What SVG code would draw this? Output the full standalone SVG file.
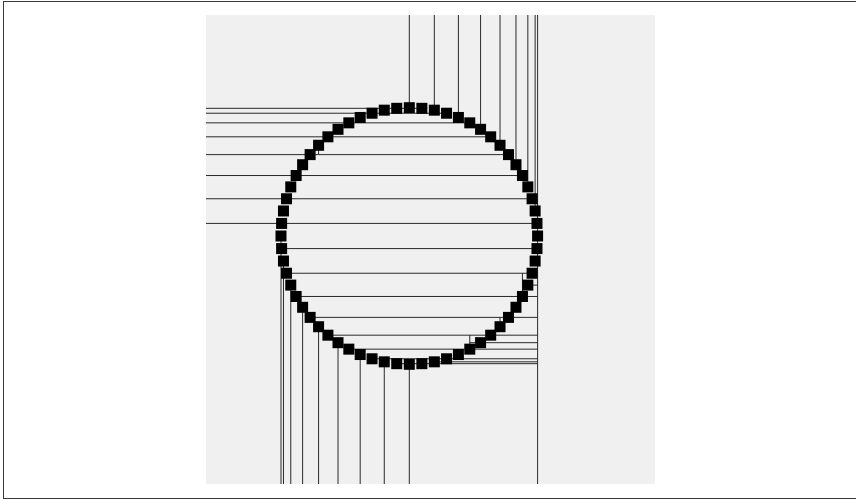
<svg xmlns="http://www.w3.org/2000/svg" width="856" height="500" viewBox="0 0 856 500">
<style>
.frame{fill:none;stroke:#3a3a3a;stroke-width:1}
.panel{fill:#f0f0f0;stroke:none}
.ln{stroke:#2a2a2a;stroke-width:1;fill:none}
.sq{fill:#000}
</style>
<defs><rect id="s" x="-5.5" y="-5.5" width="11" height="11" class="sq"/></defs>
<rect class="frame" x="3.5" y="1.5" width="900" height="497"/>
<rect class="panel" x="206" y="15" width="449" height="469"/>
<g id="connectors">
<path class="ln" d="M537.6,15V484 M535.13,15V210.97 M527.83,15V186.9 M515.98,15V164.72 M500.02,15V145.28 M480.58,15V129.32 M458.4,15V117.47 M434.33,15V110.17 M409.3,15V107.7"/>
<path class="ln" d="M206,223.42H536.98 M206,198.76H532.08 M206,175.52H522.45 M206,154.61H508.48 M206,136.82H490.69 M206,122.85H469.78 M206,113.22H446.54 M206,108.32H421.88"/>
<path class="ln" d="M281,484V236 M283.47,484V261.03 M290.77,484V285.1 M302.62,484V307.28 M318.58,484V326.72 M338.02,484V342.68 M360.2,484V354.53 M384.27,484V361.83 M409.3,484V364.3"/>
<path class="ln" d="M281.62,248.58H537.6 M286.52,273.24H537.6 M296.15,296.48H537.6 M310.12,317.39H537.6 M327.91,335.18H537.6 M348.82,349.15H537.6 M372.06,358.78H537.6 M396.72,363.68H537.6"/>
<path class="ln" d="M527.83,285.1H537.6 M522.45,296.48V273.24 M500.02,326.72V317.39 M469.78,349.15V335.18 M469.78,342.68H537.6 M434.33,361.83H537.6"/>
<path class="ln" d="M318.58,145.28V154.61"/>
</g>
<g id="squares">
<use href="#s" x="537.6" y="236"/><use href="#s" x="536.98" y="223.42"/><use href="#s" x="535.13" y="210.97"/><use href="#s" x="532.08" y="198.76"/><use href="#s" x="527.83" y="186.9"/><use href="#s" x="522.45" y="175.52"/><use href="#s" x="515.98" y="164.72"/><use href="#s" x="508.48" y="154.61"/><use href="#s" x="500.02" y="145.28"/><use href="#s" x="490.69" y="136.82"/><use href="#s" x="480.58" y="129.32"/><use href="#s" x="469.78" y="122.85"/><use href="#s" x="458.4" y="117.47"/><use href="#s" x="446.54" y="113.22"/><use href="#s" x="434.33" y="110.17"/><use href="#s" x="421.88" y="108.32"/>
<use href="#s" x="409.3" y="107.7"/><use href="#s" x="396.72" y="108.32"/><use href="#s" x="384.27" y="110.17"/><use href="#s" x="372.06" y="113.22"/><use href="#s" x="360.2" y="117.47"/><use href="#s" x="348.82" y="122.85"/><use href="#s" x="338.02" y="129.32"/><use href="#s" x="327.91" y="136.82"/><use href="#s" x="318.58" y="145.28"/><use href="#s" x="310.12" y="154.61"/><use href="#s" x="302.62" y="164.72"/><use href="#s" x="296.15" y="175.52"/><use href="#s" x="290.77" y="186.9"/><use href="#s" x="286.52" y="198.76"/><use href="#s" x="283.47" y="210.97"/><use href="#s" x="281.62" y="223.42"/>
<use href="#s" x="281" y="236"/><use href="#s" x="281.62" y="248.58"/><use href="#s" x="283.47" y="261.03"/><use href="#s" x="286.52" y="273.24"/><use href="#s" x="290.77" y="285.1"/><use href="#s" x="296.15" y="296.48"/><use href="#s" x="302.62" y="307.28"/><use href="#s" x="310.12" y="317.39"/><use href="#s" x="318.58" y="326.72"/><use href="#s" x="327.91" y="335.18"/><use href="#s" x="338.02" y="342.68"/><use href="#s" x="348.82" y="349.15"/><use href="#s" x="360.2" y="354.53"/><use href="#s" x="372.06" y="358.78"/><use href="#s" x="384.27" y="361.83"/><use href="#s" x="396.72" y="363.68"/>
<use href="#s" x="409.3" y="364.3"/><use href="#s" x="421.88" y="363.68"/><use href="#s" x="434.33" y="361.83"/><use href="#s" x="446.54" y="358.78"/><use href="#s" x="458.4" y="354.53"/><use href="#s" x="469.78" y="349.15"/><use href="#s" x="480.58" y="342.68"/><use href="#s" x="490.69" y="335.18"/><use href="#s" x="500.02" y="326.72"/><use href="#s" x="508.48" y="317.39"/><use href="#s" x="515.98" y="307.28"/><use href="#s" x="522.45" y="296.48"/><use href="#s" x="527.83" y="285.1"/><use href="#s" x="532.08" y="273.24"/><use href="#s" x="535.13" y="261.03"/><use href="#s" x="536.98" y="248.58"/>
</g>
</svg>
